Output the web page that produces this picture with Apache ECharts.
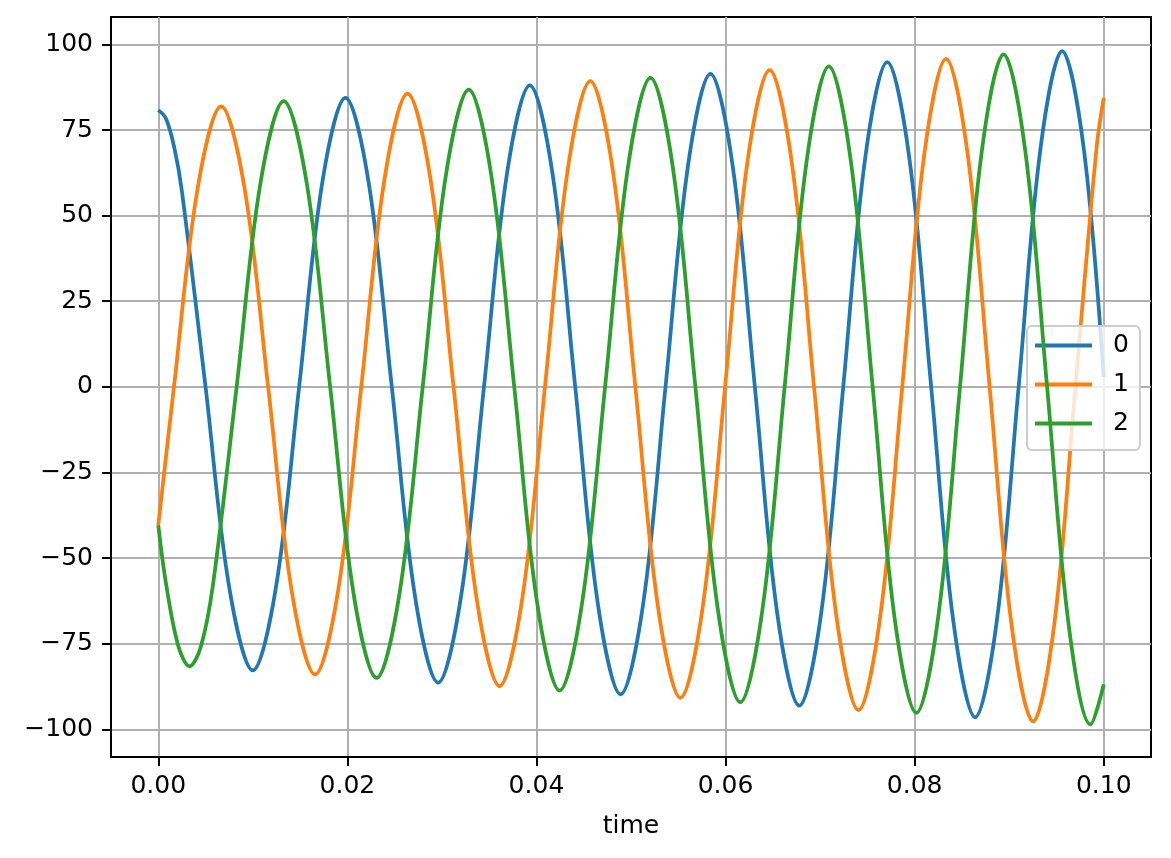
<!DOCTYPE html>
<html>
<head>
<meta charset="utf-8">
<script src="https://cdn.jsdelivr.net/npm/echarts@6/dist/echarts.min.js"></script>
<style>
html, body { margin: 0; padding: 0; background: #ffffff; }
#chart { width: 1171px; height: 858px; }
</style>
</head>
<body>
<div id="chart"></div>
<script>
// ---- data ----
const seriesNames = ['0', '1', '2'];
const xTicks = [0, 0.02, 0.04, 0.06, 0.08, 0.10];
const yTicks = [-100, -75, -50, -25, 0, 25, 50, 75, 100];

const time0 = [0, 0.0008, 0.0017, 0.0025, 0.0050, 0.0075, 0.0100, 0.01245, 0.0149, 0.01735, 0.0198, 0.02225, 0.0247, 0.02715, 0.0296, 0.03203, 0.03445, 0.03688, 0.0393, 0.0417, 0.0441, 0.0465, 0.0489, 0.05128, 0.05365, 0.05603, 0.0584, 0.06075, 0.0631, 0.06545, 0.0678, 0.07013, 0.07245, 0.07478, 0.0771, 0.07943, 0.08175, 0.08408, 0.0864, 0.0887, 0.0910, 0.0933, 0.0956, 0.0979, 0.1000];
const value0 = [80.8, 78.4, 69.8, 57.1, 0, -58.5, -82.8, -58.5, 0, 59.7, 84.4, 59.7, 0, -61.1, -86.4, -61.1, 0, 62.2, 88.0, 62.2, 0, -63.5, -89.8, -63.5, 0, 64.6, 91.4, 64.6, 0, -65.8, -93.1, -65.8, 0, 67.0, 94.8, 67.0, 0, -68.2, -96.5, -68.2, 0, 69.3, 98.0, 69.3, 2.9];

const time1 = [0, 0.00166, 0.00416, 0.00665, 0.00913, 0.01162, 0.0141, 0.01658, 0.01903, 0.02147, 0.02392, 0.02636, 0.0288, 0.03123, 0.03367, 0.0361, 0.0385, 0.0409, 0.04329, 0.04569, 0.04808, 0.05046, 0.05285, 0.05523, 0.05759, 0.05995, 0.0623, 0.06466, 0.06701, 0.06936, 0.07171, 0.07406, 0.07638, 0.07869, 0.08101, 0.08332, 0.08562, 0.08793, 0.09023, 0.09253, 0.09478, 0.0970, 0.09925, 0.1000];
const value1 = [-40.4, 0, 57.9, 81.9, 57.9, 0, -59.4, -84.0, -59.4, 0, 60.5, 85.6, 60.5, 0, -61.8, -87.4, -61.8, 0, 63.1, 89.3, 63.1, 0, -64.2, -90.8, -64.2, 0, 65.4, 92.5, 65.4, 0, -66.7, -94.4, -66.7, 0, 67.7, 95.8, 67.7, 0, -69.1, -97.7, -69.1, 0, 70.0, 84.4];

const time2 = [0, 0.0008, 0.0021, 0.0033, 0.0045, 0.00579, 0.00829, 0.01078, 0.01327, 0.01573, 0.01818, 0.02064, 0.02309, 0.02553, 0.02797, 0.0304, 0.03284, 0.03524, 0.03765, 0.04005, 0.04245, 0.04485, 0.04726, 0.04966, 0.05206, 0.05444, 0.05681, 0.05919, 0.06156, 0.0639, 0.06625, 0.06859, 0.07093, 0.07324, 0.07556, 0.07787, 0.08018, 0.08249, 0.0848, 0.0871, 0.08941, 0.09171, 0.09401, 0.0963, 0.0986, 0.1000];
const value2 = [-40.4, -57.1, -75.5, -81.6, -75.9, -57.7, 0, 59.0, 83.4, 59.0, 0, -60.1, -85.0, -60.1, 0, 61.4, 86.8, 61.4, 0, -62.7, -88.7, -62.7, 0, 63.8, 90.2, 63.8, 0, -65.1, -92.1, -65.1, 0, 66.2, 93.6, 66.2, 0, -67.3, -95.2, -67.3, 0, 68.7, 97.1, 68.7, 0, -69.7, -98.6, -86.9];

const colors = ['#1f77b4', '#ff7f0e', '#2ca02c'];
const FONT = 'DejaVu Sans';

function zip(t, v) { return t.map((x, i) => [x, v[i]]); }
const allTimes = [time0, time1, time2];
const allValues = [value0, value1, value2];

const chart = echarts.init(document.getElementById('chart'), null, { renderer: 'canvas' });
const option = {
  animation: false,
  backgroundColor: '#ffffff',
  color: colors,
  grid: {
    left: 111, right: 20, top: 17, bottom: 101,
    show: true, borderColor: '#000000', borderWidth: 2, backgroundColor: 'transparent'
  },
  legend: {
    orient: 'vertical',
    left: 1027, top: 326,
    data: seriesNames,
    icon: 'rect',
    itemWidth: 57, itemHeight: 4,
    itemGap: 14,
    padding: [7, 11, 14, 8],
    backgroundColor: 'rgba(255,255,255,0.8)',
    borderColor: '#cccccc', borderWidth: 2, borderRadius: 5,
    textStyle: { fontFamily: FONT, fontSize: 25, color: '#000000', lineHeight: 25, padding: [0, 0, 0, 16] }
  },
  xAxis: {
    type: 'value',
    min: -0.005, max: 0.105,
    name: 'time', nameLocation: 'middle', nameGap: 57,
    nameTextStyle: { fontFamily: FONT, fontSize: 25, color: '#000000' },
    axisLine: { show: true, onZero: false, lineStyle: { color: '#000000', width: 2 } },
    axisTick: { show: true, length: 9, lineStyle: { color: '#000000', width: 2 }, customValues: xTicks },
    axisLabel: { customValues: xTicks, margin: 17, fontFamily: FONT, fontSize: 25, color: '#000000',
      formatter: v => v.toFixed(2) },
    splitLine: { show: true, lineStyle: { color: '#b0b0b0', width: 2 } }
  },
  yAxis: {
    type: 'value',
    min: -108.1, max: 108.0,
    axisLine: { show: true, onZero: false, lineStyle: { color: '#000000', width: 2 } },
    axisTick: { show: true, length: 9, lineStyle: { color: '#000000', width: 2 }, customValues: yTicks },
    axisLabel: { customValues: yTicks, margin: 18, fontFamily: FONT, fontSize: 25, color: '#000000',
      formatter: v => (v < 0 ? '\u2212' + Math.abs(v) : String(v)) },
    splitLine: { show: true, lineStyle: { color: '#b0b0b0', width: 2 } }
  },
  series: seriesNames.map((name, i) => ({
    name: name,
    type: 'line',
    data: zip(allTimes[i], allValues[i]),
    symbol: 'none',
    showSymbol: false,
    smooth: 0.35,
    lineStyle: { color: colors[i], width: 3.75 },
    itemStyle: { color: colors[i] },
    z: 2 + i
  }))
};
chart.setOption(option);
</script>
</body>
</html>
